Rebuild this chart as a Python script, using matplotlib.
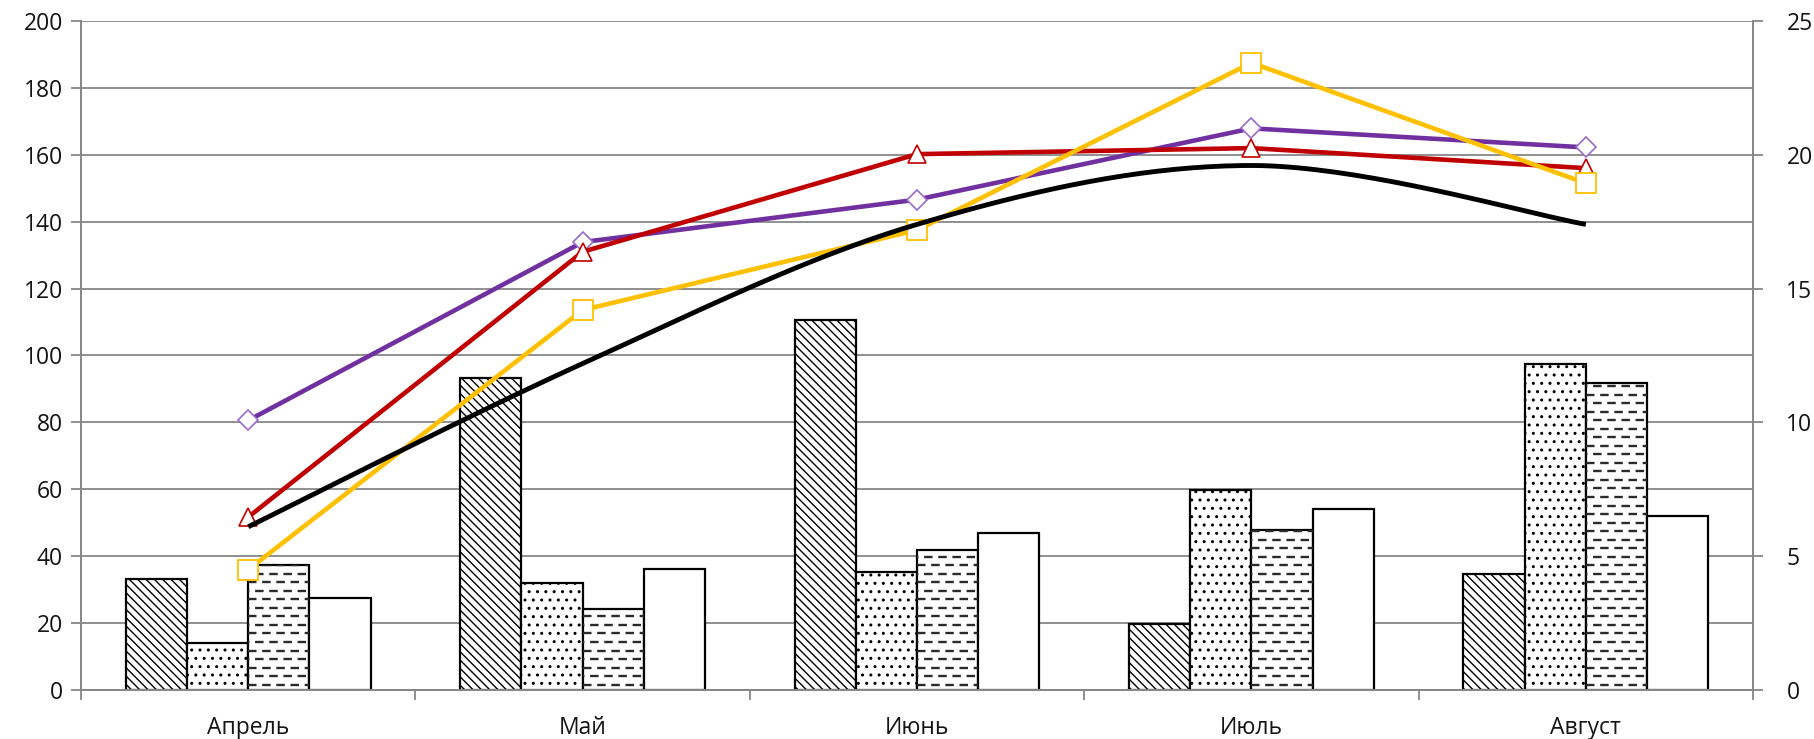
import matplotlib
matplotlib.use("Agg")
import numpy as np
import matplotlib.pyplot as plt

plt.rcParams['font.family'] = ['Open Sans', 'DejaVu Sans']
plt.rcParams['hatch.linewidth'] = 1.0

months = ["Апрель", "Май", "Июнь", "Июль", "Август"]

# bar series (left axis)
bars_a = [33.1, 93.3, 110.6, 19.7, 34.8]
bars_b = [14.2, 31.9, 35.2, 59.7, 97.4]
bars_c = [37.4, 24.2, 41.8, 47.7, 91.9]
bars_d = [27.4, 36.2, 46.9, 54.0, 51.9]

# line series (left axis)
purple = [80.6, 133.9, 146.6, 167.9, 162.2]
red = [51.7, 131.0, 160.2, 162.0, 156.0]
yellow = [36.0, 113.6, 137.5, 187.5, 151.5]

# smoothed line (right axis)
black = [6.1, 12.2, 17.4, 19.6, 17.4]

left_ticks = list(range(0, 201, 20))
right_ticks = list(range(0, 26, 5))

GRID = "#878787"
TEXT = "#141414"
FS = 16.5


def smooth(xs, ys, n=40):
    # Catmull-Rom curve through the points, ends clamped
    xs = np.asarray(xs, float)
    ys = np.asarray(ys, float)
    px = np.concatenate([[xs[0]], xs, [xs[-1]]])
    py = np.concatenate([[ys[0]], ys, [ys[-1]]])
    out_x, out_y = [], []
    t = np.linspace(0, 1, n)
    for i in range(1, len(px) - 2):
        for p, out in ((px, out_x), (py, out_y)):
            p0, p1, p2, p3 = p[i - 1], p[i], p[i + 1], p[i + 2]
            m1 = (p2 - p0) / 2
            m2 = (p3 - p1) / 2
            h00 = 2 * t**3 - 3 * t**2 + 1
            h10 = t**3 - 2 * t**2 + t
            h01 = -2 * t**3 + 3 * t**2
            h11 = t**3 - t**2
            out.extend(h00 * p1 + h10 * m1 + h01 * p2 + h11 * m2)
    return np.array(out_x), np.array(out_y)


fig = plt.figure(figsize=(18.14, 7.39), dpi=100)
ax = fig.add_axes([0.0447, 0.0663, 0.9217, 0.9053])
ax2 = ax.twinx()

x = np.arange(len(months))
w = 0.183

ax.bar(x - 1.5 * w, bars_a, w, color="white", edgecolor="black",
       linewidth=1.6, hatch="\\\\\\\\", zorder=2)
ax.bar(x - 0.5 * w, bars_b, w, color="white", edgecolor="black",
       linewidth=1.6, hatch="..", zorder=2)
rects_c = ax.bar(x + 0.5 * w, bars_c, w, color="white", edgecolor="black",
                 linewidth=1.6, zorder=2)
ax.bar(x + 1.5 * w, bars_d, w, color="white", edgecolor="black",
       linewidth=1.6, zorder=2)

# dashed horizontal fill for the third series, brick-offset rows
for rect in rects_c:
    x0 = rect.get_x()
    x1 = x0 + rect.get_width()
    rows = np.arange(1.6, rect.get_height(), 2.55)
    for k, yy in enumerate(rows):
        ln, = ax.plot([x0, x1], [yy, yy], color="#2a2a2a", lw=1.7,
                      linestyle=(0 if k % 2 == 0 else 3.0, (3.6, 2.4)),
                      solid_capstyle="butt", dash_capstyle="butt", zorder=2.5)
        ln.set_clip_path(rect)

ax.plot(x, purple, color="#7030A0", lw=3.3, marker="D", markersize=10,
        markerfacecolor="white", markeredgecolor="#9A6BCB",
        markeredgewidth=1.2, zorder=5)
ax.plot(x, red, color="#C00000", lw=3.3, marker="^", markersize=13.5,
        markerfacecolor="white", markeredgecolor="#C00000",
        markeredgewidth=1.2, zorder=5)
ax.plot(x, yellow, color="#FFC000", lw=3.3, marker="s", markersize=14,
        markerfacecolor="white", markeredgecolor="#FFC000",
        markeredgewidth=1.3, zorder=5)

sx, sy = smooth(x, black)
ax2.plot(sx, sy, color="black", lw=3.5, solid_capstyle="butt", zorder=4)

ax.set_xlim(-0.5, len(months) - 0.5)
ax.set_ylim(0, 200)
ax2.set_ylim(0, 25)
ax.set_yticks(left_ticks)
ax2.set_yticks(right_ticks)
ax.yaxis.grid(True, color=GRID, lw=1.3)
ax.set_axisbelow(True)

# category boundaries get the tick marks, names sit in between
ax.set_xticks(np.arange(-0.5, len(months), 1.0))
ax.set_xticklabels([])
ax.set_xticks(x, minor=True)
ax.set_xticklabels(months, minor=True)
ax.tick_params(axis="x", which="major", length=7, width=1.3, color=GRID,
               direction="out")
ax.tick_params(axis="x", which="minor", length=0, pad=19, labelsize=FS,
               labelcolor=TEXT)
ax.tick_params(axis="y", length=7, width=1.3, color=GRID, pad=6,
               labelsize=FS, labelcolor=TEXT)
ax2.tick_params(axis="y", length=7, width=1.3, color=GRID, pad=17,
                labelsize=FS, labelcolor=TEXT)

for a in (ax, ax2):
    a.spines["top"].set_visible(False)
    for side in ("left", "right", "bottom"):
        a.spines[side].set_color(GRID)
        a.spines[side].set_linewidth(1.3)
ax2.set_zorder(ax.get_zorder() + 1)
ax2.patch.set_visible(False)

fig.savefig("out.png", dpi=100)
